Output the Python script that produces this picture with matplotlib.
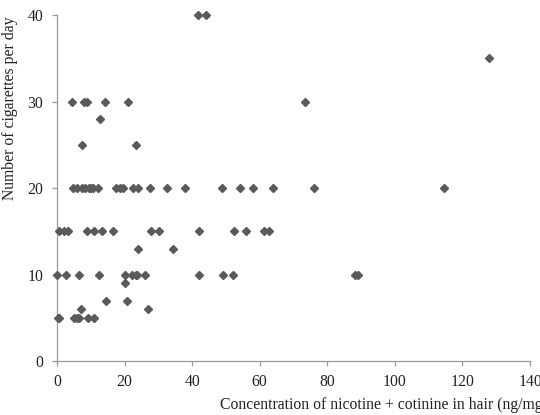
import matplotlib.pyplot as plt

plt.rcParams['font.family'] = ['Liberation Serif', 'DejaVu Serif']

# hair concentration (ng/mg) and cigarettes per day
conc_40 = [41.6, 44.0]
conc_35 = [127.8]
conc_30 = [4.5, 8.1, 8.8, 14.2, 20.9, 73.4]
conc_28 = [12.8]
conc_25 = [7.5, 23.4]
conc_20 = [4.6, 5.8, 7.4, 8.4, 9.4, 10.1, 10.6, 12.1, 17.5, 18.5, 19.5, 22.5,
           24.1, 27.5, 32.6, 37.9, 48.7, 54.2, 57.9, 63.9, 76.0, 114.4]
conc_15 = [0.7, 2.1, 3.3, 9.0, 10.8, 13.2, 16.7, 27.7, 30.3, 42.1, 52.3, 55.8,
           61.4, 62.8]
conc_13 = [23.9, 34.2]
conc_10 = [0.0, 2.6, 6.5, 12.5, 20.1, 22.1, 23.4, 23.8, 26.0, 42.1, 49.2, 52.2,
           88.3, 89.0]
conc_9 = [20.1]
conc_7 = [14.5, 20.6]
conc_6 = [7.1, 26.8]
conc_5 = [0.2, 0.7, 5.0, 5.8, 6.5, 9.3, 10.8]

rows = {40: conc_40, 35: conc_35, 30: conc_30, 28: conc_28, 25: conc_25,
        20: conc_20, 15: conc_15, 13: conc_13, 10: conc_10, 9: conc_9,
        7: conc_7, 6: conc_6, 5: conc_5}

x = []
y = []
for cig, concs in rows.items():
    for c in concs:
        x.append(c)
        y.append(cig)

fig = plt.figure(figsize=(5.4, 4.15), dpi=100)
ax = fig.add_axes([0.1056, 0.130, 0.8759, 0.8337])

ax.plot(x, y, linestyle='none', marker='D', markersize=3.7,
        color='#5a5a5a', clip_on=False, zorder=3)

ax.set_xlim(0, 140)
ax.set_ylim(0, 40)
ax.set_xticks(range(0, 141, 20))
ax.set_yticks(range(0, 41, 10))

for side in ['top', 'right']:
    ax.spines[side].set_visible(False)
for side in ['left', 'bottom']:
    ax.spines[side].set_color('#9a9a9a')
    ax.spines[side].set_linewidth(0.9)

ax.tick_params(axis='both', direction='out', length=3.4, width=0.9,
               color='#9a9a9a', labelsize=11.3, labelcolor='#222222')
ax.tick_params(axis='y', pad=6.5)
ax.tick_params(axis='x', pad=6)

fig.text(220 / 540, 10 / 415,
         'Concentration of nicotine + cotinine in hair (ng/mg)',
         ha='left', va='center', fontsize=11.3, color='#222222')
fig.text(10 / 540, (415 - 108) / 415, 'Number of cigarettes per day',
         rotation=90, ha='center', va='center', fontsize=11.3, color='#222222')

fig.savefig('out.png', dpi=100)
